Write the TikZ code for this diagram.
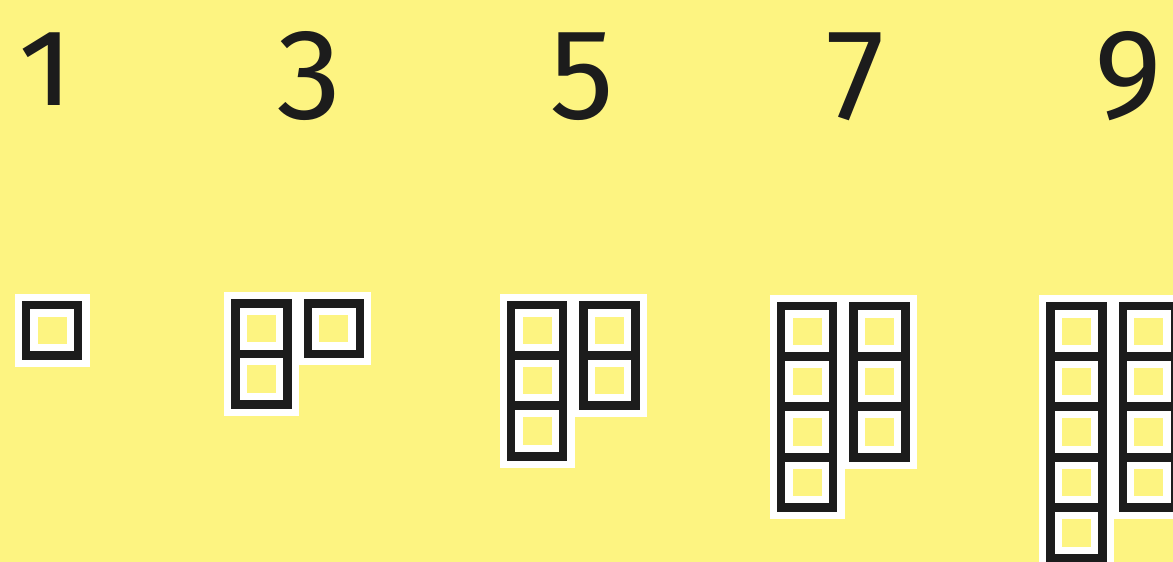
\documentclass[tikz,border=0pt]{standalone}
\usepackage{fontspec}
\setmainfont{Fira Sans}[Numbers=OldStyle]
\definecolor{paper}{HTML}{FDF481}
\definecolor{ink}{HTML}{1C1C1C}

% one group of cells: left x, top y, cells in the right column, style
\newcommand\cellgroup[4]{%
  \foreach \i in {0,...,#3}
    \draw[#4] (#1,#2+\i*50.4) rectangle ++(52,50.4);
  \ifnum#3>0
    \foreach \i in {1,...,#3}
      \draw[#4] (#1+72.5,#2+\i*50.4-50.4) rectangle ++(52,50.4);
  \fi}

\begin{document}
\begin{tikzpicture}[x=1pt,y=-1pt,
  num/.style={font=\fontsize{129}{129}\selectfont,text=ink,inner sep=0pt,anchor=base},
  halo/.style={draw=white,line width=23pt},
  cell/.style={draw=ink,line width=8.7pt}
]
\fill[paper] (0,0) rectangle (1173,562);
\useasboundingbox (0,0) rectangle (1173,562);

% odd numbers
\foreach \n/\x in {1/46,3/309,5/582,7/856,9/1128}
  \node[num] (n\n) at (\x,105) {\n};

% white halos first, then the black squares
\foreach \x/\y/\k in {26/305/0,235.4/303.5/1,511/305/2,781/306/3,1050.4/306/4}
  \cellgroup{\x}{\y}{\k}{halo};
\foreach \x/\y/\k in {26/305/0,235.4/303.5/1,511/305/2,781/306/3,1050.4/306/4}
  \cellgroup{\x}{\y}{\k}{cell};
\end{tikzpicture}
\end{document}
